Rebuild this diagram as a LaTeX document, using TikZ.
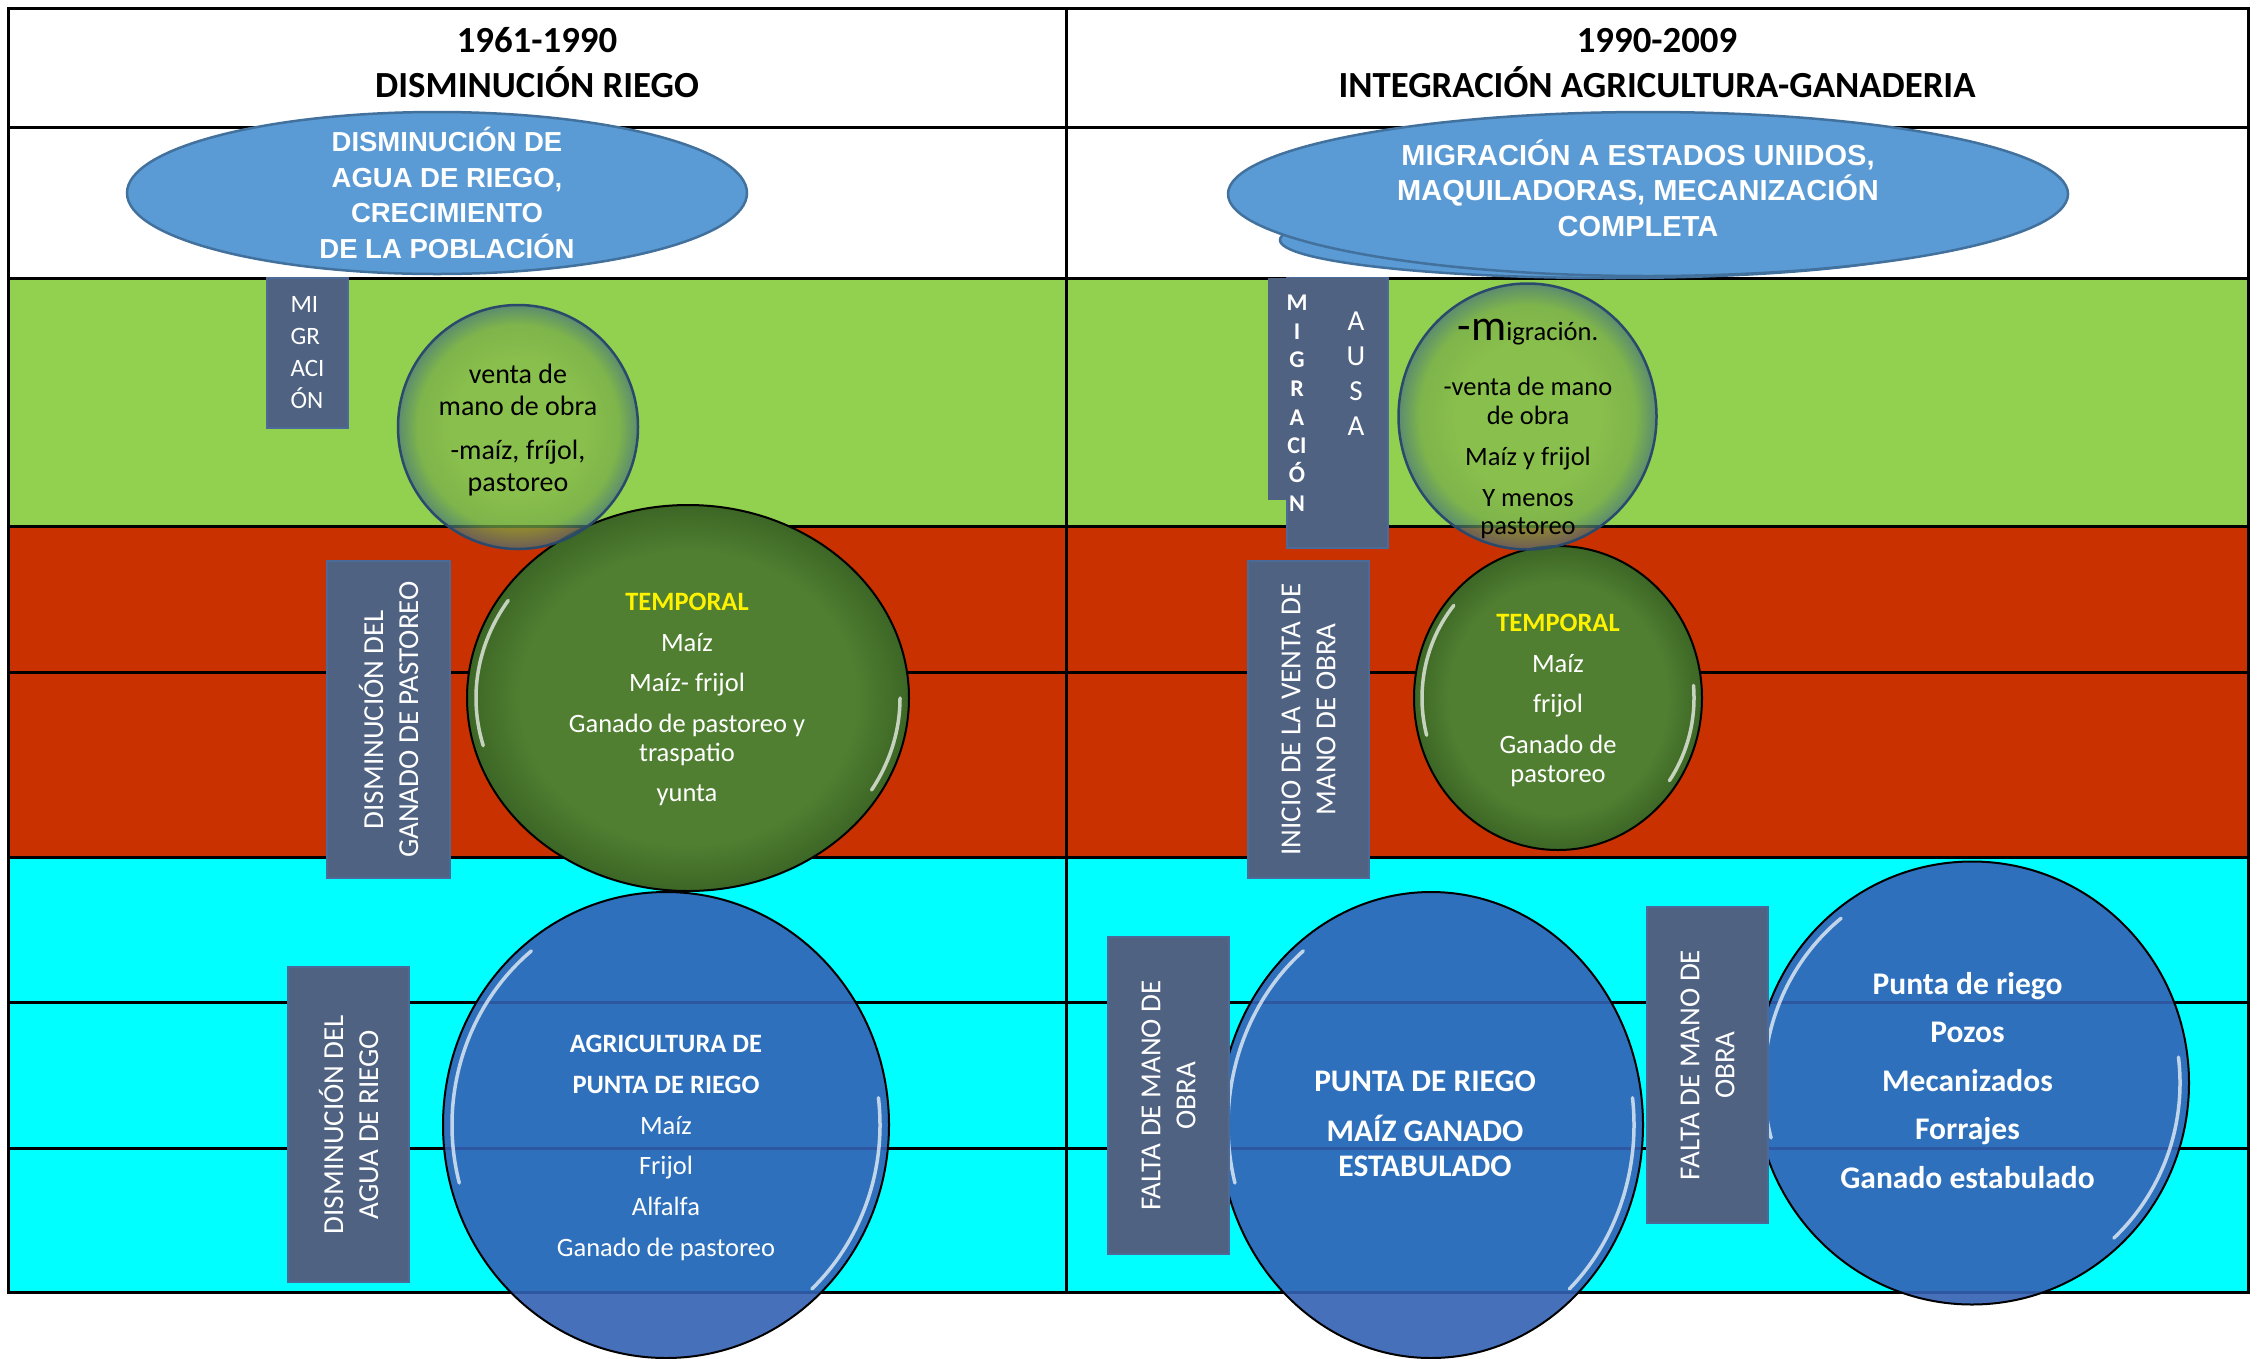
\documentclass[tikz,border=0pt]{standalone}
\usepackage{fontspec}
\setmainfont{Carlito}
\newfontfamily\ovalfont{Liberation Sans}

\definecolor{rowgreen}{HTML}{92D050}
\definecolor{rowred}{HTML}{C93200}
\definecolor{rowcyan}{HTML}{00FFFF}
\definecolor{topblue}{HTML}{5B9BD5}
\definecolor{topedge}{HTML}{41719C}
\definecolor{slate}{HTML}{506282}
\definecolor{boxedge}{HTML}{4C6A98}
\definecolor{darkgreen}{HTML}{507F31}
\definecolor{deepgreen}{HTML}{3C6625}
\definecolor{riegoblue}{HTML}{3461B4}
\definecolor{bubblein}{HTML}{86B84B}
\definecolor{bubblemid}{HTML}{76A94A}
\definecolor{bubbleout}{HTML}{45707C}
\definecolor{bubbleedge}{HTML}{2B4A6B}

\pgfdeclareradialshading{bubbleglow}{\pgfpoint{0bp}{0bp}}{color(0bp)=(bubblein); color(14bp)=(bubblein); color(21bp)=(bubblemid); color(25bp)=(bubbleout); color(50bp)=(bubbleout)}
\pgfdeclareradialshading{temporalglow}{\pgfpoint{0bp}{0bp}}{color(0bp)=(darkgreen); color(19bp)=(darkgreen); color(25bp)=(deepgreen); color(50bp)=(deepgreen)}

\begin{document}
\begin{tikzpicture}[x=1pt, y=-1pt,
  grid line/.style={line width=3, line cap=rect},
  top oval/.style={fill=topblue, draw=topedge, line width=2.5},
  top text/.style={text=white, align=center, inner sep=0},
  bubble edge/.style={draw=bubbleedge, line width=2.5},
  temporal oval/.style={shading=temporalglow, draw=black, line width=2},
  riego oval/.style={fill=riegoblue, fill opacity=0.9, draw=black, line width=2},
  glint/.style={draw=white, opacity=0.7, line width=3.5, line cap=round},
  oval text/.style={align=center, inner sep=0, font=\fontsize{26.5}{29}\selectfont},
  label box/.style={fill=slate, draw=boxedge, line width=1.2, text=white, inner sep=0,
    align=center, font=\fontsize{29}{35}\selectfont}]
  \useasboundingbox (0,0) rectangle (2267,1358);

  % rows of the table
  \fill[white] (0,0) rectangle (2267,1358);
  \fill[rowgreen] (8,278) rectangle (2248,526);
  \fill[rowred] (8,526) rectangle (2248,857);
  \fill[rowcyan] (8,857) rectangle (2248,1292);

  % table rules
  \foreach \y in {8,127,278,526,672,857,1002,1148,1292}
  \draw[grid line] (8,\y) -- (2248,\y);
  \foreach \x in {8,1066,2248}
  \draw[grid line] (\x,8) -- (\x,1292);

  % centres of the ovals
  \coordinate (agua) at (437,193);
  \coordinate (usaBack) at (1610,240);
  \coordinate (usa) at (1648,194);
  \coordinate (ventaL) at (518,427);
  \coordinate (temporalL) at (688,698);
  \coordinate (riegoL) at (666,1125);
  \coordinate (ventaR) at (1527.5,416.5);
  \coordinate (temporalR) at (1558,698);
  \coordinate (riegoM) at (1431,1125);
  \coordinate (riegoR) at (1972,1083);

  % top ovals
  \draw[top oval] (agua) ellipse [x radius=310, y radius=81];
  \draw[top oval] (usaBack) ellipse [x radius=330, y radius=38];
  \draw[top oval] (usa) ellipse [x radius=420, y radius=82];

  % temporal ovals
  \shadedraw[temporal oval] (temporalL) ellipse [x radius=221, y radius=193];
  \shadedraw[temporal oval] (temporalR) ellipse [x radius=144, y radius=152];

  % see-through bubbles
  \shade[shading=bubbleglow, opacity=0.7] (ventaL) ellipse [x radius=120, y radius=122];
  \draw[bubble edge] (ventaL) ellipse [x radius=120, y radius=122];
  \shade[shading=bubbleglow, opacity=0.7] (ventaR) ellipse [x radius=129, y radius=133];
  \draw[bubble edge] (ventaR) ellipse [x radius=129, y radius=133];

  % punta de riego ovals
  \draw[riego oval] (riegoL) ellipse [x radius=223, y radius=233];
  \draw[riego oval] (riegoM) ellipse [x radius=212, y radius=233];
  \draw[riego oval] (riegoR) ellipse [x radius=217, y radius=221.5];

  % shine on the rims
  \draw[glint] (temporalL) ++(-148:212 and 184) arc[start angle=-148, end angle=-195, x radius=212, y radius=184];
  \draw[glint] (temporalL) ++(0:212 and 184) arc[start angle=0, end angle=30, x radius=212, y radius=184];
  \draw[glint] (temporalR) ++(-140:136 and 144) arc[start angle=-140, end angle=-195, x radius=136, y radius=144];
  \draw[glint] (temporalR) ++(-5:136 and 144) arc[start angle=-5, end angle=35, x radius=136, y radius=144];
  \draw[glint] (riegoL) ++(-129:214 and 224) arc[start angle=-129, end angle=-195, x radius=214, y radius=224];
  \draw[glint] (riegoL) ++(-7:214 and 224) arc[start angle=-7, end angle=47, x radius=214, y radius=224];
  \draw[glint] (riegoM) ++(-129:203 and 224) arc[start angle=-129, end angle=-195, x radius=203, y radius=224];
  \draw[glint] (riegoM) ++(-7:203 and 224) arc[start angle=-7, end angle=47, x radius=203, y radius=224];
  \draw[glint] (riegoR) ++(-129:208 and 212) arc[start angle=-129, end angle=-195, x radius=208, y radius=212];
  \draw[glint] (riegoR) ++(-7:208 and 212) arc[start angle=-7, end angle=47, x radius=208, y radius=212];

  % slate labels
  \node[label box, minimum width=81, minimum height=150, align=left,
    font=\fontsize{25}{32}\selectfont] (migraBox) at (307.5,353) {MI\\GR\\ACI\\ÓN};
  \node[label box, rotate=90, minimum width=317, minimum height=123] (pastoreoBox)
    at (388.5,719.5) {DISMINUCIÓN DEL\\GANADO DE PASTOREO};
  \node[label box, rotate=90, minimum width=315, minimum height=121] (aguaBox)
    at (348.5,1124.5) {DISMINUCIÓN DEL\\AGUA DE RIEGO};
  \node[label box, rotate=90, minimum width=317, minimum height=121] (ventaBox)
    at (1308.5,719.5) {INICIO DE LA VENTA DE\\MANO DE OBRA};
  \node[label box, rotate=90, minimum width=317, minimum height=121] (faltaBoxA)
    at (1168.5,1095.5) {FALTA DE MANO DE\\OBRA};
  \node[label box, rotate=90, minimum width=316, minimum height=121] (faltaBoxB)
    at (1707.5,1065) {FALTA DE MANO DE\\OBRA};

  % migracion a USA label
  \filldraw[fill=slate, draw=boxedge, line width=1.5] (1287,278) rectangle (1388,548);
  \fill[slate] (1268,278) rectangle (1385,500);
  \node[text=white, align=center, inner sep=0, font=\bfseries\fontsize{24}{28.7}\selectfont]
    (migraLetters) at (1297,403) {M\\I\\G\\R\\A\\CI\\Ó\\N};
  \node[text=white, align=center, inner sep=0, font=\fontsize{29}{34.7}\selectfont]
    (usaLetters) at (1356,373.7) {A\\U\\S\\A};

  % headings
  \node[inner sep=0, align=center, font=\bfseries\fontsize{36.8}{45}\selectfont]
    (headA) at (537,63) {1961-1990\\DISMINUCIÓN RIEGO};
  \node[inner sep=0, align=center, font=\bfseries\fontsize{36.8}{45}\selectfont]
    (headB) at (1657,63) {1990-2009\\INTEGRACIÓN AGRICULTURA-GANADERIA};

  % texts in the ovals
  \node[top text, font=\ovalfont\bfseries\fontsize{27.5}{35.5}\selectfont] (aguaTxt)
    at (447,193) {DISMINUCIÓN DE\\AGUA DE RIEGO,\\CRECIMIENTO\\DE LA POBLACIÓN};
  \node[top text, font=\ovalfont\bfseries\fontsize{29}{35.5}\selectfont] (usaTxt)
    at (1638,188) {MIGRACIÓN A ESTADOS UNIDOS,\\MAQUILADORAS, MECANIZACIÓN\\COMPLETA};
  \node[oval text, font=\fontsize{28}{32}\selectfont] (ventaLTxt)
    at (518,430) {venta de\\mano de obra\\[12pt]-maíz, fríjol,\\pastoreo};
  \node[oval text, text=white] (temporalLTxt) at (687,699.5)
    {\textcolor{yellow}{\bfseries TEMPORAL}\\[11.5pt]Maíz\\[11.5pt]Maíz- frijol\\[11.5pt]Ganado de pastoreo y\\traspatio\\[11.5pt]yunta};
  \node[oval text, text=white, font=\fontsize{26.5}{40.7}\selectfont] (riegoLTxt) at (666,1148)
    {\textbf{AGRICULTURA DE}\\\textbf{PUNTA DE RIEGO}\\Maíz\\Frijol\\Alfalfa\\Ganado de pastoreo};
  \node[oval text, font=\fontsize{26.5}{28.7}\selectfont] (ventaRTxt) at (1528,429.4)
    {{\fontsize{44}{44}\selectfont -m}igración.\\[26pt]-venta de mano\\de obra\\[12.3pt]Maíz y frijol\\[12.3pt]Y menos\\pastoreo};
  \node[oval text, text=white] (temporalRTxt) at (1558,700.6)
    {\textcolor{yellow}{\bfseries TEMPORAL}\\[11.5pt]Maíz\\[11.5pt]frijol\\[11.5pt]Ganado de\\pastoreo};
  \node[oval text, text=white, font=\bfseries\fontsize{31.4}{35}\selectfont] (riegoMTxt)
    at (1425,1123.7) {PUNTA DE RIEGO\\[14.3pt]MAÍZ GANADO\\ESTABULADO};
  \node[oval text, text=white, font=\bfseries\fontsize{31.5}{48.5}\selectfont] (riegoRTxt)
    at (1967.5,1080.2) {Punta de riego\\Pozos\\Mecanizados\\Forrajes\\Ganado estabulado};
\end{tikzpicture}
\end{document}
